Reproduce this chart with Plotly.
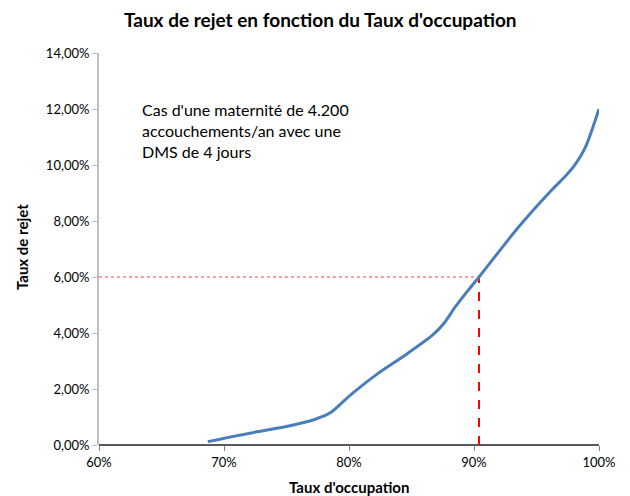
import plotly.graph_objects as go

# Data (percent units)
occupation = [68.7, 72.6, 75.2, 77.3, 78.5, 80.2, 82.3, 84.3, 86.7, 87.6, 88.5, 89.4, 90.4, 93.5, 96.2, 97.4, 98.1, 98.9, 100.0]
rejet      = [0.12, 0.47, 0.68, 0.92, 1.15, 1.82, 2.55, 3.15, 3.93, 4.35, 4.93, 5.45, 6.00, 7.75, 9.10, 9.64, 10.02, 10.62, 12.00]

threshold_occupation = 90.4
threshold_rejet = 6.0

x_tickvals = [60, 70, 80, 90, 100]
x_ticktext = ["60%", "70%", "80%", "90%", "100%"]
y_tickvals = [0, 2, 4, 6, 8, 10, 12, 14]
y_ticktext = ["0,00%", "2,00%", "4,00%", "6,00%", "8,00%", "10,00%", "12,00%", "14,00%"]

FONT = "Lato, 'Open Sans', sans-serif"

fig = go.Figure()

# horizontal dotted reference
fig.add_trace(go.Scatter(
    x=[60, threshold_occupation], y=[threshold_rejet, threshold_rejet],
    mode="lines", line=dict(color="#ff7f7f", width=1.5, dash="dot"),
    hoverinfo="skip", showlegend=False))
# vertical dashed reference
fig.add_trace(go.Scatter(
    x=[threshold_occupation, threshold_occupation], y=[0, threshold_rejet],
    mode="lines", line=dict(color="#ff0000", width=2, dash="dash"),
    hoverinfo="skip", showlegend=False))
# main curve
fig.add_trace(go.Scatter(
    x=occupation, y=rejet, mode="lines",
    line=dict(color="#4a7ebb", width=3, shape="spline", smoothing=0.8),
    showlegend=False))

# page body has an 8px margin: size the figure to fit the visible window
fig.update_layout(
    width=622, height=488,
    margin=dict(l=91, r=31, t=45, b=51),
    paper_bgcolor="white", plot_bgcolor="white",
    font=dict(family=FONT, size=13, color="#000000"),
    title=dict(text="<b>Taux de rejet en fonction du Taux d'occupation</b>",
               x=0.502, xanchor="center", y=0.975, yanchor="middle",
               font=dict(family=FONT, size=19, color="#000000")),
    xaxis=dict(range=[60, 100], tickvals=x_tickvals, ticktext=x_ticktext,
               showgrid=False, zeroline=False, showline=False, automargin=False,
               ticks="outside", ticklen=5, tickcolor="#808080",
               tickfont=dict(size=13, color="#000000")),
    yaxis=dict(range=[0, 14], tickvals=y_tickvals, ticktext=y_ticktext,
               showgrid=False, zeroline=True, zerolinecolor="#595959", zerolinewidth=2,
               showline=True, linecolor="#bfbfbf", linewidth=2, automargin=False,
               ticks="outside", ticklen=5, tickcolor="#bfbfbf",
               tickfont=dict(size=13, color="#000000")),
    annotations=[
        dict(text="Cas d'une maternité de 4.200<br>accouchements/an avec une<br>DMS de 4 jours",
             xref="paper", yref="paper", x=0.082, y=0.885, xanchor="left", yanchor="top",
             align="left", showarrow=False,
             font=dict(family=FONT, size=16, color="#000000")),
        dict(text="<b>Taux d'occupation</b>", xref="paper", yref="paper",
             x=0.5, y=-0.107, xanchor="center", yanchor="middle", showarrow=False,
             font=dict(family=FONT, size=15, color="#000000")),
        dict(text="<b>Taux de rejet</b>", xref="paper", yref="paper",
             x=-0.154, y=0.505, xanchor="center", yanchor="middle", textangle=-90,
             showarrow=False, font=dict(family=FONT, size=15, color="#000000")),
    ],
)

fig.write_html("out.html")
